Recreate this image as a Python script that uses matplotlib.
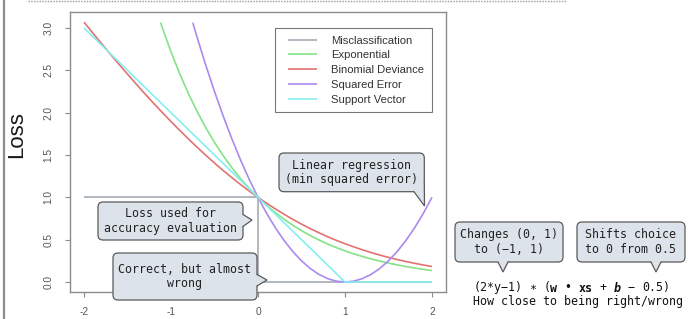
import matplotlib
matplotlib.use("Agg")
import matplotlib.pyplot as plt
from matplotlib.patches import FancyBboxPatch, Polygon
from matplotlib.lines import Line2D
from matplotlib.legend_handler import HandlerLine2D
import numpy as np
import re

plt.rcParams["axes.unicode_minus"] = False

# ---------------- data ----------------
x_grid = [-2.0, -1.9, -1.8, -1.7, -1.6, -1.5, -1.4, -1.3, -1.2, -1.1,
          -1.0, -0.9, -0.8, -0.7, -0.6, -0.5, -0.4, -0.3, -0.2, -0.1,
          0.0, 0.1, 0.2, 0.3, 0.4, 0.5, 0.6, 0.7, 0.8, 0.9,
          1.0, 1.1, 1.2, 1.3, 1.4, 1.5, 1.6, 1.7, 1.8, 1.9, 2.0]

misclass_x = [-2.0, 0.0, 0.0, 2.0]
misclass_y = [1.0, 1.0, 0.0, 0.0]

exp_x = [-1.12] + x_grid[9:]
exp_y = [3.065, 3.004, 2.718, 2.460, 2.226, 2.014, 1.822, 1.649, 1.492, 1.350,
         1.221, 1.105, 1.000, 0.905, 0.819, 0.741, 0.670, 0.607, 0.549, 0.497,
         0.449, 0.407, 0.368, 0.333, 0.301, 0.273, 0.247, 0.223, 0.202, 0.183,
         0.165, 0.150, 0.135]

binom_x = x_grid
binom_y = [3.069, 2.942, 2.818, 2.695, 2.574, 2.455, 2.338, 2.223, 2.111, 2.002,
           1.895, 1.791, 1.690, 1.592, 1.497, 1.405, 1.317, 1.233, 1.151, 1.074,
           1.000, 0.930, 0.863, 0.800, 0.740, 0.684, 0.631, 0.582, 0.535, 0.492,
           0.452, 0.415, 0.380, 0.348, 0.318, 0.291, 0.265, 0.242, 0.221, 0.201,
           0.183]

sq_x = [-0.75] + x_grid[13:]
sq_y = [3.063, 2.89, 2.56, 2.25, 1.96, 1.69, 1.44, 1.21, 1.00, 0.81,
        0.64, 0.49, 0.36, 0.25, 0.16, 0.09, 0.04, 0.01, 0.00, 0.01,
        0.04, 0.09, 0.16, 0.25, 0.36, 0.49, 0.64, 0.81, 1.00]

svm_x = [-2.0, 1.0, 2.0]
svm_y = [3.0, 0.0, 0.0]

series_labels = ["Misclassification", "Exponential", "Binomial Deviance",
                 "Squared Error", "Support Vector"]
x_ticks = [-2, -1, 0, 1, 2]
y_ticks = [0.0, 0.5, 1.0, 1.5, 2.0, 2.5, 3.0]
y_label = "Loss"

callout_texts = ["Loss used for\naccuracy evaluation",
                 "Correct, but almost\nwrong",
                 "Linear regression\n(min squared error)",
                 "Changes (0, 1)\nto (\u22121, 1)",
                 "Shifts choice\nto 0 from 0.5"]
eq_parts = [("(2*y\u22121) \u2217 (", "normal"), ("w", "bold"), (" \u2022 ", "normal"),
            ("xs", "bold"), (" + ", "normal"), ("b", "italic"), (" \u2212 0.5)", "normal")]
eq_caption = "How close to being right/wrong"

# ---------------- styles ----------------
colors = ["#a3abb5", "#85e385", "#e27272", "#ab8af0", "#85efef"]
W, H = 691, 319
fig = plt.figure(figsize=(W / 100, H / 100), dpi=100)

ax = fig.add_axes([70 / W, 27 / H, 376 / W, 280 / H])
series = [(misclass_x, misclass_y), (exp_x, exp_y), (binom_x, binom_y),
          (sq_x, sq_y), (svm_x, svm_y)]
for (xs, ys), c, lab in zip(series, colors, series_labels):
    ax.plot(xs, ys, color=c, lw=1.2, label=lab, solid_capstyle="butt")

ax.set_xlim(-2.161, 2.161)
ax.set_ylim(-0.118, 3.189)
ax.set_xticks(x_ticks)
ax.set_xticklabels([str(t) for t in x_ticks])
ax.set_yticks(y_ticks)
ax.set_yticklabels([f"{t:.1f}" for t in y_ticks])
for s in ax.spines.values():
    s.set_color("#8c8c8c")
    s.set_linewidth(1.0)
ax.tick_params(direction="out", length=3.6, width=0.8, color="#8c8c8c",
               labelcolor="#555555", labelsize=7.3)
ax.tick_params(axis="x", pad=7.4)
ax.tick_params(axis="y", labelrotation=90, pad=8.2)
for lbl in ax.get_yticklabels() + ax.get_xticklabels():
    lbl.set_fontfamily("Liberation Sans")
for lbl in ax.get_yticklabels():
    lbl.set_va("center")


class OffsetLine(HandlerLine2D):
    def get_xdata(self, legend, xdescent, ydescent, width, height, fontsize):
        x0 = -xdescent + 0.5 * fontsize
        x1 = -xdescent + width
        return np.array([x0, x1]), np.array([x0, x1])


leg = ax.legend(loc="upper right", bbox_to_anchor=(432 / W, 1 - 28 / H),
                bbox_transform=fig.transFigure, borderaxespad=0,
                prop={"family": "Liberation Sans", "size": 8.1},
                labelcolor="#333333", fancybox=False, framealpha=1,
                edgecolor="#777777", handlelength=3.05, handletextpad=1.3,
                borderpad=0.68, labelspacing=0.42,
                handler_map={Line2D: OffsetLine()})
leg.get_frame().set_linewidth(0.8)

fig.text(17 / W, 1 - 135 / H, y_label, rotation=90, ha="center", va="center",
         fontsize=16, family="Liberation Sans", color="#1a1a1a")

# ---------------- overlay in pixel coordinates ----------------
ov = fig.add_axes([0, 0, 1, 1])
ov.set_xlim(0, W)
ov.set_ylim(H, 0)
ov.axis("off")

ov.plot([28, 567], [0.8, 0.8], color="#9a9a9a", lw=1.0, ls=(0, (1, 1)))
ov.plot([4, 4], [0, H], color="#8c8c8c", lw=1.6)

FILL = "#dde3ea"
EDGE = "#5a5a5a"
MONO = "DejaVu Sans Mono"
FS = 8.4


def bubble(x0, y0, x1, y1, text, a, tip, b, cover):
    ov.add_patch(FancyBboxPatch((x0, y0), x1 - x0, y1 - y0,
                                boxstyle="round,pad=0,rounding_size=5",
                                fc=FILL, ec=EDGE, lw=0.9))
    ov.add_patch(Polygon(cover, closed=True, fc=FILL, ec="none"))
    ov.plot([a[0], tip[0], b[0]], [a[1], tip[1], b[1]], color=EDGE, lw=0.9,
            solid_joinstyle="miter")
    ov.text((x0 + x1) / 2, (y0 + y1) / 2, text, ha="center", va="center",
            multialignment="center", family=MONO, fontsize=FS,
            color="#222222", linespacing=1.15)


bubble(98, 202, 243, 240, callout_texts[0], (243, 214.5), (252, 220), (243, 226.5),
       [(241.5, 214.5), (243, 214.5), (252, 220), (243, 226.5), (241.5, 226.5)])
bubble(113, 253, 257, 300, callout_texts[1], (257, 274.5), (267, 280), (257, 286),
       [(255.5, 274.5), (257, 274.5), (267, 280), (257, 286), (255.5, 286)])
bubble(279, 153, 424.3, 191.7, callout_texts[2], (414, 191.7), (424.5, 206), (424.3, 184),
       [(414, 184), (414, 191.7), (424.5, 206), (424.3, 184)])
bubble(455, 222, 563, 262, callout_texts[3], (498, 262), (503, 272), (508, 262),
       [(498, 260.5), (498, 262), (503, 272), (508, 262), (508, 260.5)])
bubble(577, 222, 685, 262, callout_texts[4], (651, 262), (656, 272), (661, 262),
       [(651, 260.5), (651, 262), (656, 272), (661, 262), (661, 260.5)])

# equation line: each non-space run placed in its monospace cells
adv = 0.6021 * FS * 100 / 72
total = sum(len(p) for p, _ in eq_parts)
x_c = 571.5
pen0 = x_c - total * adv / 2
pos = 0
for p, st in eq_parts:
    for m in re.finditer(r"\S+", p):
        run = m.group(0)
        cx = pen0 + (pos + m.start() + len(run) / 2) * adv
        ov.text(cx, 291.5, run, ha="center", va="baseline", family=MONO,
                fontsize=FS, color="#111111",
                fontweight="normal" if st == "normal" else "bold",
                fontstyle="italic" if st == "italic" else "normal")
    pos += len(p)
ov.text(473, 305.5, eq_caption, ha="left", va="baseline", family=MONO,
        fontsize=FS, color="#111111")

fig.savefig("out.png", dpi=100)
